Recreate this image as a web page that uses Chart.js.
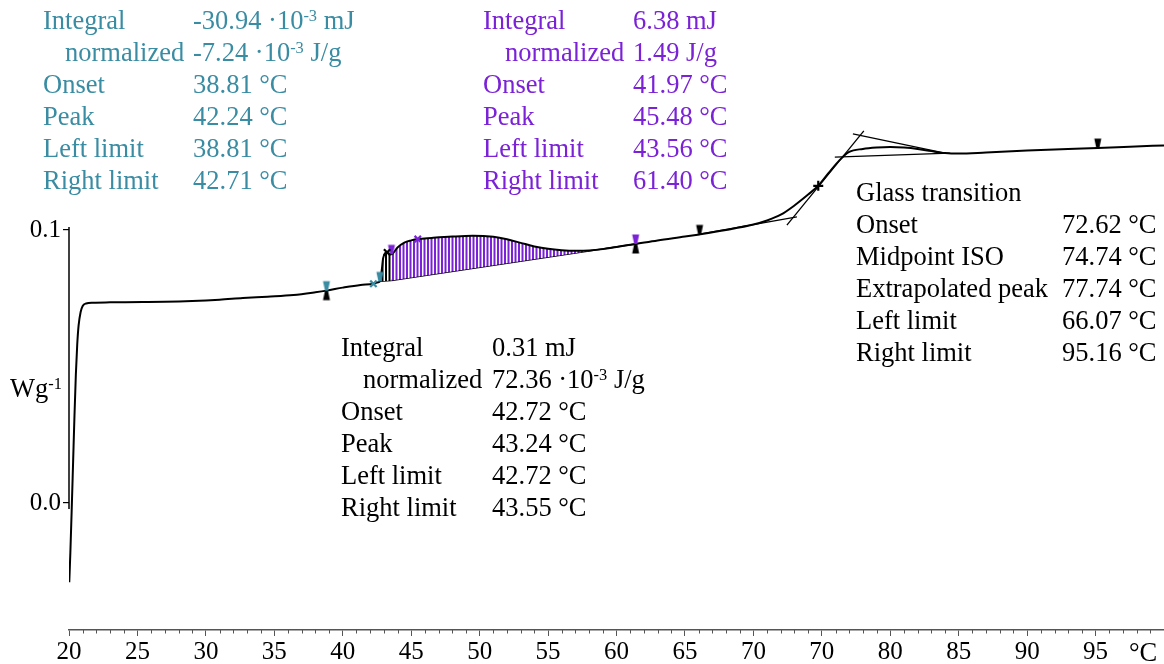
<!DOCTYPE html>
<html>
<head>
<meta charset="utf-8">
<script src="https://cdn.jsdelivr.net/npm/chart.js@4.4.1/dist/chart.umd.min.js"></script>
<style>
  html, body { margin:0; padding:0; background:#fff; }
  #wrap { position:relative; width:1164px; height:664px; overflow:hidden; }
  canvas { position:absolute; left:0; top:0; }
  .blk { position:absolute; font-family:'Liberation Serif', 'DejaVu Serif', serif; font-size:26.5px; line-height:32px; white-space:nowrap; }
  .row { position:relative; height:32px; }
  .row span.l, .row span.v { position:absolute; top:0; }
  .sup { font-size:0.62em; position:relative; top:-0.48em; }
  .teal { color:#3a8ca3; }
  .purple { color:#7b22d6; }
  .black { color:#000; }
  .lbl { position:absolute; font-family:'Liberation Serif', serif; font-size:26.5px; line-height:32px; white-space:nowrap; color:#000; }
</style>
</head>
<body>
<div id="wrap">
  <canvas id="c" width="1164" height="664"></canvas>
</div>
<script>
// ---------------- DATA ----------------
const curveT = [20.02, 20.1, 20.2, 20.3, 20.4, 20.5, 20.6, 20.7, 20.85, 21.0, 21.25, 21.75, 23, 25.4, 27, 29, 31, 32.7, 34.5, 36.4, 38, 38.81, 40, 41.3, 42.24, 42.5, 42.72, 42.85, 42.95, 43.1, 43.24, 43.4, 43.55, 43.56, 44.0, 44.5, 45.0, 45.48, 46.5, 48, 49.5, 51, 52, 53, 54, 55, 56, 57, 58, 59, 60, 61.4, 63, 65, 66.07, 68, 70, 71, 72, 73, 74, 74.74, 75.5, 76.3, 77, 78, 79, 80, 81, 82, 83, 84, 85, 87, 90, 93, 95.16, 97.5, 100];
const curveHF = [-0.029, -0.018, -0.002, 0.015, 0.032, 0.047, 0.058, 0.065, 0.0700, 0.0722, 0.0731, 0.0734, 0.0735, 0.0736, 0.0737, 0.0740, 0.0745, 0.0751, 0.0756, 0.0762, 0.0772, 0.0778, 0.0789, 0.0799, 0.0803, 0.0808, 0.0812, 0.0853, 0.0897, 0.0916, 0.0918, 0.0913, 0.0911, 0.0911, 0.0936, 0.0954, 0.0962, 0.0967, 0.0971, 0.0976, 0.0979, 0.0975, 0.0966, 0.0953, 0.0940, 0.0931, 0.0926, 0.0924, 0.0925, 0.0930, 0.0938, 0.0949, 0.0962, 0.0976, 0.0984, 0.1000, 0.1020, 0.1035, 0.1056, 0.1090, 0.1130, 0.1162, 0.1209, 0.1256, 0.1286, 0.1297, 0.1302, 0.1304, 0.1302, 0.1297, 0.1289, 0.1282, 0.1280, 0.1284, 0.1291, 0.1297, 0.1300, 0.1305, 0.1310];

// integration baselines
const purpleBaseT = [43.56, 61.40];
const purpleBaseHF = [0.0815, 0.0949];
const blackBaseT = [42.72, 43.55];
const blackBaseHF = [0.0812, 0.0815];
const purpleRange = [43.56, 61.40];
const blackRange = [42.72, 43.55];

// glass transition construction lines
const tan1T = [66.07, 73.18], tan1HF = [0.0985, 0.1048];
const tan2T = [72.45, 78.07], tan2HF = [0.1018, 0.1363];
const tan3T = [77.27, 84.0],  tan3HF = [0.1352, 0.1282];
const tan4T = [75.95, 84.35], tan4HF = [0.1267, 0.1282];

// evaluation markers (temperatures)
const hourTealBlackT = [38.81];
const hourPurpleBlackT = [61.40];
const tealTopT = [42.71];
const purpleTopT = [43.56];
const blackTopT = [66.07, 95.16];
const tealCrossT = [42.24];
const blackCrossT = [43.24];
const purpleCrossT = [45.48];
const blackPlusT = [74.74];

// axes
const xTicks = [20, 25, 30, 35, 40, 45, 50, 55, 60, 65, 70, 75, 80, 85, 90, 95];
const xTickLabels = ['20','25','30','35','40','45','50','55','60','65','70','70','80','85','90','95'];
const yTicks = [0, 0.1];
const yTickLabels = ['0.0', '0.1'];

// text blocks
const tealLabels = ['Integral', 'normalized', 'Onset', 'Peak', 'Left limit', 'Right limit'];
const tealValues = ['-30.94 ·10<span class="sup">-3</span> mJ', '-7.24 ·10<span class="sup">-3</span> J/g', '38.81 °C', '42.24 °C', '38.81 °C', '42.71 °C'];
const purpleLabels = ['Integral', 'normalized', 'Onset', 'Peak', 'Left limit', 'Right limit'];
const purpleValues = ['6.38 mJ', '1.49 J/g', '41.97 °C', '45.48 °C', '43.56 °C', '61.40 °C'];
const blackLabels = ['Integral', 'normalized', 'Onset', 'Peak', 'Left limit', 'Right limit'];
const blackValues = ['0.31 mJ', '72.36 ·10<span class="sup">-3</span> J/g', '42.72 °C', '43.24 °C', '42.72 °C', '43.55 °C'];
const glassLabels = ['Glass transition', 'Onset', 'Midpoint ISO', 'Extrapolated peak', 'Left limit', 'Right limit'];
const glassValues = ['', '72.62 °C', '74.74 °C', '77.74 °C', '66.07 °C', '95.16 °C'];

// ---------------- HELPERS ----------------
const TEAL = '#3a8ca3', PURPLE = '#7b22d6';
function interp(ts, vs, t) {
  for (let i = 0; i < ts.length - 1; i++) {
    if (t >= ts[i] && t <= ts[i+1]) {
      const f = (t - ts[i]) / (ts[i+1] - ts[i]);
      return vs[i] + f * (vs[i+1] - vs[i]);
    }
  }
  return vs[vs.length-1];
}
const pts = (ts, vs) => ts.map((t, i) => ({x: t, y: vs[i]}));
const onCurve = ts => ts.map(t => ({x: t, y: interp(curveT, curveHF, t)}));
const subCurve = r => curveT.map((t, i) => ({x: t, y: curveHF[i]})).filter(p => p.x >= r[0] - 1e-9 && p.x <= r[1] + 1e-9);

function trapMarker(top, bottom) {
  const c = document.createElement('canvas'); c.width = 12; c.height = 24;
  const g = c.getContext('2d');
  if (top) { g.fillStyle = top; g.beginPath(); g.moveTo(2.5, 2.5); g.lineTo(9.5, 2.5); g.lineTo(7.5, 12); g.lineTo(4.5, 12); g.closePath(); g.fill(); }
  if (bottom) { g.fillStyle = bottom; g.beginPath(); g.moveTo(4.5, 12); g.lineTo(7.5, 12); g.lineTo(9.5, 21.5); g.lineTo(2.5, 21.5); g.closePath(); g.fill(); }
  return c;
}
const ctx = document.getElementById('c').getContext('2d');
function hatch(color) {
  const p = document.createElement('canvas'); p.width = 7; p.height = 4;
  const g = p.getContext('2d');
  g.fillStyle = '#ffffff'; g.fillRect(0, 0, 7, 4);
  g.fillStyle = color; g.fillRect(0, 0, 2, 4); g.fillRect(3.5, 0, 2, 4);
  return ctx.createPattern(p, 'repeat');
}

function block(cls, left, top, labels, values, valOffset, indentIdx) {
  const d = document.createElement('div');
  d.className = 'blk ' + cls;
  d.style.left = left + 'px'; d.style.top = top + 'px';
  labels.forEach((lab, i) => {
    const r = document.createElement('div'); r.className = 'row';
    const l = document.createElement('span'); l.className = 'l'; l.textContent = lab;
    l.style.left = (i === indentIdx ? 22 : 0) + 'px';
    const v = document.createElement('span'); v.className = 'v'; v.innerHTML = values[i];
    v.style.left = valOffset + 'px';
    r.appendChild(l); r.appendChild(v); d.appendChild(r);
  });
  document.getElementById('wrap').appendChild(d);
}
block('teal', 43, 4, tealLabels, tealValues, 150, 1);
block('purple', 483, 4, purpleLabels, purpleValues, 150, 1);
block('black', 341, 331, blackLabels, blackValues, 151, 1);
block('black', 856, 176, glassLabels, glassValues, 206, -1);

const wl = document.createElement('div'); wl.className = 'lbl';
wl.style.left = '10px'; wl.style.top = '372px'; wl.innerHTML = 'Wg<span class="sup">-1</span>';
document.getElementById('wrap').appendChild(wl);
const cl = document.createElement('div'); cl.className = 'lbl';
cl.style.left = '1129px'; cl.style.top = '636px'; cl.textContent = '°C';
document.getElementById('wrap').appendChild(cl);

// ---------------- CHART ----------------
const lineDS = (data, w, extra) => Object.assign({
  data, showLine: true, borderColor: '#000', borderWidth: w, pointRadius: 0, fill: false
}, extra || {});
const trapDS = (data, img) => ({ data, pointStyle: img, pointRadius: 6, borderWidth: 0 });

const datasets = [
  { data: onCurve(tealCrossT), pointStyle: 'crossRot', pointRadius: 4.5, borderColor: TEAL, borderWidth: 2.2 },
  { data: onCurve(blackCrossT), pointStyle: 'crossRot', pointRadius: 4.5, borderColor: '#000', borderWidth: 2.2 },
  { data: onCurve(purpleCrossT), pointStyle: 'crossRot', pointRadius: 4.5, borderColor: PURPLE, borderWidth: 2.2 },
  { data: onCurve(blackPlusT), pointStyle: 'cross', pointRadius: 5, borderColor: '#000', borderWidth: 2.2 },
  trapDS(onCurve(hourTealBlackT), trapMarker(TEAL, '#000')),
  trapDS(onCurve(hourPurpleBlackT), trapMarker(PURPLE, '#000')),
  trapDS(onCurve(tealTopT), trapMarker(TEAL, null)),
  trapDS(onCurve(purpleTopT), trapMarker(PURPLE, null)),
  trapDS(onCurve(blackTopT), trapMarker('#000', null)),
  lineDS(pts(curveT, curveHF), 2, { cubicInterpolationMode: 'monotone' }),
  lineDS(pts(tan1T, tan1HF), 1.3),
  lineDS(pts(tan2T, tan2HF), 1.3),
  lineDS(pts(tan3T, tan3HF), 1.3),
  lineDS(pts(tan4T, tan4HF), 1.3),
  lineDS(subCurve(purpleRange), 0, { cubicInterpolationMode: 'monotone', fill: '+1', backgroundColor: hatch(PURPLE) }),
  lineDS(pts(purpleBaseT, purpleBaseHF), 1.4),
  lineDS(subCurve(blackRange), 0, { cubicInterpolationMode: 'monotone', fill: '+1', backgroundColor: hatch('#000') }),
  lineDS(pts(blackBaseT, blackBaseHF), 1.4)
];

const axisPlugin = {
  id: 'axisExtras',
  beforeDatasetsDraw(chart) {
    const { ctx, scales: { x, y }, chartArea } = chart;
    ctx.save();
    const px = x.getPixelForValue(20);
    ctx.strokeStyle = '#000'; ctx.lineWidth = 1.5;
    ctx.beginPath();
    ctx.moveTo(px, y.getPixelForValue(0.1) - 3);
    ctx.lineTo(px, y.getPixelForValue(0) + 6);
    ctx.stroke();
    ctx.strokeStyle = '#555'; ctx.lineWidth = 1;
    for (let t = Math.ceil(x.min); t <= x.max; t++) {
      if (t % 5 === 0) continue;
      const xp = Math.round(x.getPixelForValue(t)) + 0.5;
      ctx.beginPath();
      ctx.moveTo(xp, chartArea.bottom);
      ctx.lineTo(xp, chartArea.bottom + 3.5);
      ctx.stroke();
    }
    ctx.restore();
  }
};

new Chart(ctx, {
  type: 'scatter',
  data: { datasets },
  options: {
    responsive: false,
    animation: false,
    devicePixelRatio: 1,
    layout: { autoPadding: false, padding: { left: 0, right: 0, top: 0, bottom: 0 } },
    plugins: { legend: { display: false }, tooltip: { enabled: false } },
    elements: { point: { radius: 0, hoverRadius: 0 } },
    scales: {
      x: {
        type: 'linear', min: 20, max: 100,
        afterBuildTicks: s => { s.ticks = xTicks.map(v => ({ value: v })); },
        afterFit: s => { s.height = 34; s.paddingLeft = 0; s.paddingRight = 0; },
        ticks: {
          callback: (v, i) => xTickLabels[i],
          font: { family: 'Liberation Serif', size: 25 }, color: '#000',
          padding: 1, maxRotation: 0, autoSkip: false
        },
        grid: { drawOnChartArea: false, tickLength: 6, color: '#555', lineWidth: 1 },
        border: { display: true, color: '#555', width: 1.5 }
      },
      y: {
        type: 'linear', min: -0.0465, max: 0.18425,
        afterBuildTicks: s => { s.ticks = yTicks.map(v => ({ value: v })); },
        afterFit: s => { s.width = 69; s.paddingTop = 0; s.paddingBottom = 0; },
        ticks: {
          callback: (v, i) => yTickLabels[i],
          font: { family: 'Liberation Serif', size: 25 }, color: '#000',
          padding: 2, autoSkip: false
        },
        grid: { drawOnChartArea: false, tickLength: 6, color: '#000', lineWidth: 1.2 },
        border: { display: false }
      }
    }
  },
  plugins: [axisPlugin]
});
</script>
</body>
</html>
